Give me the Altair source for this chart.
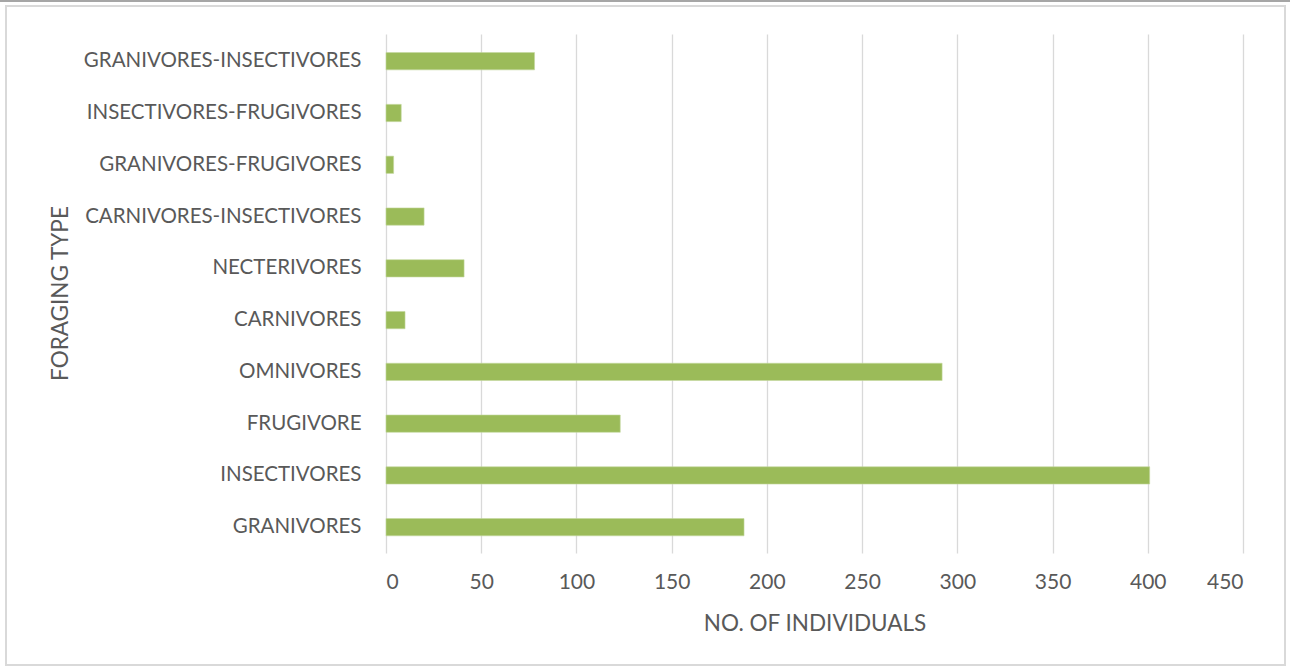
import altair as alt
import pandas as pd

categories = [
    "GRANIVORES",
    "INSECTIVORES",
    "FRUGIVORE",
    "OMNIVORES",
    "CARNIVORES",
    "NECTERIVORES",
    "CARNIVORES-INSECTIVORES",
    "GRANIVORES-FRUGIVORES",
    "INSECTIVORES-FRUGIVORES",
    "GRANIVORES-INSECTIVORES",
]
individuals = [188, 401, 123, 292, 10, 41, 20, 4, 8, 78]
x_ticks = [0, 50, 100, 150, 200, 250, 300, 350, 400, 450]

df = pd.DataFrame({"type": categories, "n": individuals})
order = list(reversed(categories))

FONT = "Lato"
GRAY = "#595959"

bars = alt.Chart(df).mark_bar(color="#9bbb59", stroke="#c5d9a0", strokeWidth=0.6).encode(
    x=alt.X(
        "n:Q",
        scale=alt.Scale(domain=[0, 450], nice=False),
        axis=alt.Axis(
            values=x_ticks,
            title="NO. OF INDIVIDUALS",
            domain=False,
            ticks=False,
            grid=True,
            gridColor="#d9d9d9",
            gridWidth=1.3,
            labelPadding=18,
            labelFont=FONT,
            labelFontSize=21,
            labelColor=GRAY,
            titleFont=FONT,
            titleFontSize=22.5,
            titleFontWeight="normal",
            titleColor=GRAY,
            titleY=70,
            titleBaseline="middle",
        ),
    ),
    y=alt.Y(
        "type:N",
        sort=order,
        scale=alt.Scale(paddingInner=0.666, paddingOuter=0.345, align=0.52),
        axis=alt.Axis(
            title="FORAGING TYPE",
            domain=False,
            ticks=False,
            grid=False,
            labelPadding=25,
            labelFont=FONT,
            labelFontSize=20.5,
            labelColor=GRAY,
            labelLimit=400,
            titleFont=FONT,
            titleFontSize=22.5,
            titleFontWeight="normal",
            titleColor=GRAY,
            titleAngle=-90,
            titleX=-326,
            titleY=259,
            titleAlign="center",
            titleBaseline="middle",
        ),
    ),
)

frame = alt.Chart(df).mark_rect(fill=None, stroke="#d9d9d9", strokeWidth=1.5, clip=False).encode(
    x=alt.value(-380), x2=alt.value(899), y=alt.value(-28), y2=alt.value(631)
)
topline = alt.Chart(df).mark_rule(color="#a6a6a6", strokeWidth=2, clip=False).encode(
    x=alt.value(-386), x2=alt.value(904), y=alt.value(-33)
)

chart = alt.layer(frame, topline, bars).properties(
    width=857,
    height=519,
    padding={"left": 386, "top": 34, "right": 47, "bottom": 118},
    autosize=alt.AutoSizeParams(type="none"),
    background="white",
).configure_view(stroke=None)

chart.save("out.html", embed_options={"renderer": "svg", "actions": False})
